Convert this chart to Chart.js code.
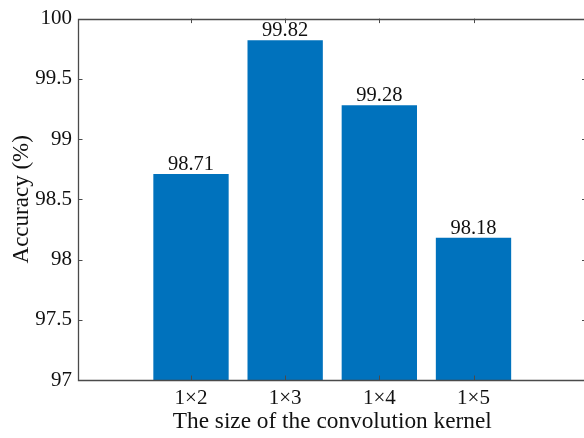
<!DOCTYPE html>
<html>
<head>
<meta charset="utf-8">
<script src="https://cdn.jsdelivr.net/npm/chart.js@4/dist/chart.umd.min.js"></script>
<style>
  html, body { margin: 0; padding: 0; background: #fff; overflow: hidden; }
  #c { display: block; }
</style>
</head>
<body>
<canvas id="c" width="620" height="438" style="width:620px;height:438px"></canvas>
<script>
// Kernel sizes and the accuracy measured for each
const kernelSizes = ['1×2', '1×3', '1×4', '1×5'];
const accuracy = [98.71, 99.82, 99.28, 98.18];
const kernelPositions = [1, 2, 3, 4];
const yTickValues = [97, 97.5, 98, 98.5, 99, 99.5, 100];
const yTickLabels = ['97', '97.5', '98', '98.5', '99', '99.5', '100'];

const SERIF = '"Liberation Serif", "Times New Roman", serif';
const AXIS_COLOR = '#4a4a4a';

// Axis frame (left, bottom, top) with inward-pointing ticks
const boxAndTicks = {
  id: 'boxAndTicks',
  afterDatasetsDraw(chart) {
    const { ctx, chartArea: a, scales: { x, y } } = chart;
    const len = 4.5;
    ctx.save();
    ctx.strokeStyle = AXIS_COLOR;
    ctx.lineWidth = 1;
    ctx.beginPath();
    kernelPositions.forEach(v => {
      const px = Math.round(x.getPixelForValue(v)) + 0.5;
      ctx.moveTo(px, a.bottom); ctx.lineTo(px, a.bottom - len);
      ctx.moveTo(px, a.top); ctx.lineTo(px, a.top + len);
    });
    yTickValues.forEach(v => {
      const py = Math.round(y.getPixelForValue(v)) + 0.5;
      ctx.moveTo(a.left, py); ctx.lineTo(a.left + len, py);
      ctx.moveTo(a.right, py); ctx.lineTo(a.right - len, py);
    });
    ctx.stroke();
    const L = Math.round(a.left) + 0.5, T = Math.round(a.top) + 0.5, B = Math.round(a.bottom) + 0.5;
    ctx.lineWidth = 1.3;
    ctx.beginPath();
    ctx.moveTo(a.right, T); ctx.lineTo(L, T); ctx.lineTo(L, B); ctx.lineTo(a.right, B);
    ctx.stroke();
    ctx.restore();
  }
};

// Value printed above each bar
const barValues = {
  id: 'barValues',
  afterDatasetsDraw(chart) {
    const { ctx } = chart;
    const meta = chart.getDatasetMeta(0);
    ctx.save();
    ctx.font = '20.5px ' + SERIF;
    ctx.fillStyle = '#111';
    ctx.textAlign = 'center';
    ctx.textBaseline = 'alphabetic';
    meta.data.forEach((bar, i) => {
      ctx.fillText(accuracy[i].toFixed(2), bar.x, bar.y - 4);
    });
    ctx.restore();
  }
};

new Chart(document.getElementById('c'), {
  type: 'bar',
  data: {
    datasets: [{
      data: kernelPositions.map((p, i) => ({ x: p, y: accuracy[i] })),
      backgroundColor: '#0072BD',
      borderWidth: 0,
      barPercentage: 0.8,
      categoryPercentage: 1.0
    }]
  },
  options: {
    responsive: false,
    animation: false,
    devicePixelRatio: 1,
    layout: { padding: { top: 17, right: 33.5, left: 0, bottom: 0 } },
    plugins: { legend: { display: false }, tooltip: { enabled: false } },
    scales: {
      x: {
        type: 'linear',
        min: -0.2,
        max: 5.2,
        offset: false,
        afterBuildTicks(scale) { scale.ticks = kernelPositions.map(v => ({ value: v })); },
        afterFit(scale) { scale.height = 58; },
        ticks: {
          autoSkip: false,
          maxRotation: 0,
          padding: 6,
          color: '#111',
          font: { family: SERIF, size: 21 },
          callback(value) {
            const i = kernelPositions.indexOf(value);
            return i >= 0 ? kernelSizes[i] : '';
          }
        },
        grid: { display: false, drawTicks: false },
        border: { display: false },
        title: {
          display: true,
          text: 'The size of the convolution kernel',
          color: '#111',
          font: { family: SERIF, size: 23.3 },
          padding: { top: 0, bottom: 2 }
        }
      },
      y: {
        min: 97,
        max: 100,
        afterBuildTicks(scale) { scale.ticks = yTickValues.map(v => ({ value: v })); },
        afterFit(scale) { scale.width = 78; },
        ticks: {
          autoSkip: false,
          padding: 6,
          color: '#111',
          font: { family: SERIF, size: 21 },
          callback(value) {
            const i = yTickValues.indexOf(value);
            return i >= 0 ? yTickLabels[i] : '';
          }
        },
        grid: { display: false, drawTicks: false },
        border: { display: false },
        title: {
          display: true,
          text: 'Accuracy (%)',
          color: '#111',
          font: { family: SERIF, size: 23 },
          padding: { top: 8, bottom: 0 }
        }
      }
    }
  },
  plugins: [boxAndTicks, barValues]
});
</script>
</body>
</html>
